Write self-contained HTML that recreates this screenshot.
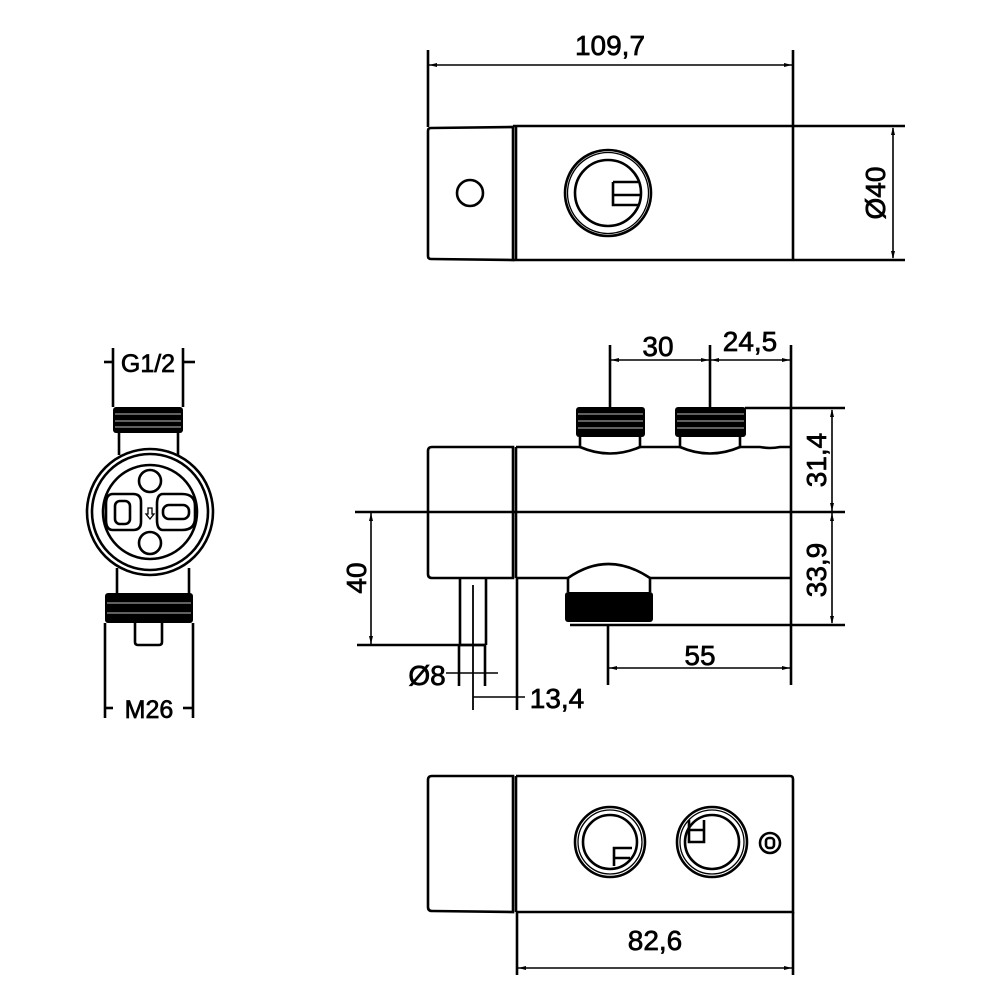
<!DOCTYPE html>
<html><head><style>
html,body{margin:0;padding:0;background:#fff}
svg{display:block}
text{font-family:"Liberation Sans",Arial,sans-serif;font-size:28px;fill:#000;stroke:#000;stroke-width:0.7px}
</style></head><body>
<svg width="1000" height="1000" viewBox="0 0 1000 1000" xmlns="http://www.w3.org/2000/svg">
<g fill="none" stroke="#000" stroke-width="2.6">
<!-- TOP VIEW -->
<line x1="428" y1="50" x2="428" y2="127"/>
<line x1="793" y1="50" x2="793" y2="260"/>
<line x1="428" y1="65" x2="793" y2="65" stroke-width="1.6"/>
<path d="M431 128 L513 127 L513 260 L431 259 Q428 259 428 256 L428 131 Q428 128 431 128 Z"/>
<line x1="516" y1="127" x2="516" y2="260"/>
<line x1="513" y1="126" x2="905" y2="126"/>
<line x1="513" y1="260" x2="905" y2="260"/>
<line x1="893" y1="128" x2="893" y2="258" stroke-width="1.6"/>
<circle cx="470" cy="193" r="13"/>
<circle cx="608" cy="193" r="43"/>
<circle cx="608" cy="193" r="40.5" stroke-width="1.3"/>
<circle cx="608" cy="193" r="33"/>
<path d="M613 182 L638 182 M613 182 L613 205 L639 205 M613 195 L640 195"/>

<!-- SIDE VIEW -->
<line x1="610" y1="345" x2="610" y2="408"/>
<line x1="710" y1="345" x2="710" y2="408"/>
<line x1="791" y1="345" x2="791" y2="625"/>
<line x1="610" y1="360" x2="791" y2="360" stroke-width="1.6"/>
<line x1="745" y1="408" x2="845" y2="408"/>
<line x1="355" y1="512" x2="845" y2="512"/>
<line x1="570" y1="625" x2="845" y2="625"/>
<line x1="832" y1="410" x2="832" y2="623" stroke-width="1.6"/>
<path d="M432 447 L513 447 L513 578 L432 578 Q428 578 428 574 L428 451 Q428 447 432 447 Z"/>
<line x1="516" y1="447" x2="516" y2="578"/>
<line x1="516" y1="447" x2="580" y2="447"/>
<line x1="640" y1="447" x2="680" y2="447"/>
<path d="M740 447 L760 447 Q770 449 780 447 L791 447"/>
<line x1="516" y1="578" x2="568" y2="578"/>
<line x1="650" y1="578" x2="791" y2="578"/>
<path d="M580 437 L580 447 Q610 460 640 447 L640 437"/>
<path d="M680 437 L680 447 Q710 460 740 447 L740 437"/>
<path d="M568 592 L568 578 Q608 550 650 578 L650 592"/>
</g>
<g fill="#000">
<rect x="576" y="407" width="69" height="30" rx="3"/>
<rect x="675" y="407" width="71" height="30" rx="3"/>
<rect x="565" y="592" width="88" height="30" rx="3"/>
<rect x="113" y="407" width="70" height="26" rx="3"/>
<rect x="105" y="593" width="88" height="30" rx="3"/>
</g>
<g stroke="#fff" stroke-width="0.8">
<line x1="578" y1="414" x2="643" y2="414"/><line x1="578" y1="421" x2="643" y2="421"/><line x1="578" y1="428" x2="643" y2="428"/>
<line x1="677" y1="414" x2="744" y2="414"/><line x1="677" y1="421" x2="744" y2="421"/><line x1="677" y1="428" x2="744" y2="428"/>
<line x1="115" y1="414" x2="181" y2="414"/><line x1="115" y1="421" x2="181" y2="421"/><line x1="115" y1="427" x2="181" y2="427"/>
<line x1="107" y1="603" x2="191" y2="603"/><line x1="107" y1="613" x2="191" y2="613"/>
</g>
<g fill="none" stroke="#000" stroke-width="2.6">
<path d="M460 645 L460 578 M486 578 L486 645 M460 645 L486 645"/>
<line x1="473" y1="585" x2="473" y2="710" stroke-width="1.8"/>
<line x1="517" y1="578" x2="517" y2="710"/>
<line x1="459" y1="645" x2="459" y2="686"/>
<line x1="485" y1="645" x2="485" y2="686"/>
<line x1="446" y1="673" x2="498" y2="673" stroke-width="1.6"/>
<line x1="473" y1="697" x2="525" y2="697" stroke-width="1.6"/>
<line x1="357" y1="645" x2="486" y2="645"/>
<line x1="371" y1="512" x2="371" y2="645" stroke-width="1.6"/>
<line x1="608" y1="625" x2="608" y2="685"/>
<line x1="608" y1="668" x2="791" y2="668" stroke-width="1.6"/>
<line x1="791" y1="625" x2="791" y2="685"/>

<!-- END VIEW -->
<line x1="113" y1="348" x2="113" y2="407"/>
<line x1="183" y1="348" x2="183" y2="407"/>
<line x1="104" y1="362" x2="113" y2="362"/><line x1="183" y1="362" x2="195" y2="362"/>
<line x1="119" y1="433" x2="119" y2="455"/><line x1="178" y1="433" x2="178" y2="455"/>
<line x1="117" y1="568" x2="117" y2="593"/><line x1="189" y1="568" x2="189" y2="593"/>
<circle cx="150" cy="512" r="63"/>
<circle cx="150" cy="512" r="58"/>
<circle cx="150" cy="512" r="47"/>
<circle cx="150" cy="481" r="11"/>
<circle cx="150" cy="543" r="11"/>
<path d="M133 494 Q141 494 141 502 L141 522 Q141 530 133 530 L113 530 Q106 530 106 520 L106 504 Q106 494 113 494 Z"/>
<rect x="115" y="501" width="15" height="23" rx="5"/>
<path d="M163 494 L182 494 Q195 494 195 506 L195 518 Q195 530 182 530 L163 530 Q157 530 157 520 L157 504 Q157 494 163 494 Z"/>
<rect x="163" y="505" width="26" height="14" rx="6"/>
<path d="M148 508 L152 508 L152 514 L154 514 L150 519 L146 514 L148 514 Z" stroke-width="1.3"/>
<path d="M135 623 L135 642 Q135 645 138 645 L159 645 Q162 645 162 642 L162 623"/>
<line x1="105" y1="623" x2="105" y2="718"/>
<line x1="193" y1="623" x2="193" y2="718"/>
<line x1="105" y1="708" x2="113" y2="708"/><line x1="183" y1="708" x2="193" y2="708"/>

<!-- BOTTOM VIEW -->
<path d="M432 776 L513 776 L513 912 L432 911 Q428 911 428 907 L428 780 Q428 776 432 776 Z"/>
<line x1="516" y1="776" x2="516" y2="912"/>
<path d="M516 776 L790 776 Q793 776 793 779 L793 912 L516 912"/>
<line x1="517" y1="912" x2="517" y2="975"/>
<line x1="793" y1="912" x2="793" y2="975"/>
<line x1="517" y1="968" x2="793" y2="968" stroke-width="1.6"/>
<circle cx="610" cy="842" r="35"/><circle cx="610" cy="842" r="32" stroke-width="1.3"/><circle cx="610" cy="842" r="27"/>
<path d="M614 866 L614 848 L632 848 M614 858 L630 858"/>
<circle cx="712" cy="842" r="35"/><circle cx="712" cy="842" r="32" stroke-width="1.3"/><circle cx="712" cy="842" r="27"/>
<path d="M689 820 L689 842 L704 842 L704 820 M689 830 L704 830"/>
<circle cx="770" cy="843" r="10"/>
<rect x="766" y="838" width="8" height="10" rx="3"/>
</g>
<g fill="#000">
<path d="M429 65 l8 -2 v4z"/><path d="M792 65 l-8 -2 v4z"/>
<path d="M893 127 l-2 8 h4z"/><path d="M893 259 l-2 -8 h4z"/>
<path d="M611 360 l8 -2 v4z"/><path d="M709 360 l-8 -2 v4z"/><path d="M711 360 l8 -2 v4z"/><path d="M790 360 l-8 -2 v4z"/>
<path d="M832 409 l-2 8 h4z"/><path d="M832 511 l-2 -8 h4z"/><path d="M832 513 l-2 8 h4z"/><path d="M832 624 l-2 -8 h4z"/>
<path d="M371 513 l-2 8 h4z"/><path d="M371 644 l-2 -8 h4z"/>
<path d="M609 668 l8 -2 v4z"/><path d="M790 668 l-8 -2 v4z"/>
<path d="M518 968 l8 -2 v4z"/><path d="M792 968 l-8 -2 v4z"/>
</g>
<text x="610" y="55" text-anchor="middle">109,7</text>
<text transform="translate(885,193) rotate(-90)" text-anchor="middle">Ø40</text>
<text x="658" y="356" text-anchor="middle">30</text>
<text x="750" y="351" text-anchor="middle">24,5</text>
<text transform="translate(826,460) rotate(-90)" text-anchor="middle">31,4</text>
<text transform="translate(826,570) rotate(-90)" text-anchor="middle">33,9</text>
<text transform="translate(366,578) rotate(-90)" text-anchor="middle">40</text>
<text x="700" y="665" text-anchor="middle">55</text>
<text x="427" y="685" text-anchor="middle">Ø8</text>
<text x="557" y="708" text-anchor="middle">13,4</text>
<text x="148" y="372" text-anchor="middle" style="font-size:25px">G1/2</text>
<text x="149" y="718" text-anchor="middle" style="font-size:25px">M26</text>
<text x="655" y="950" text-anchor="middle">82,6</text>
</svg>
</body></html>
